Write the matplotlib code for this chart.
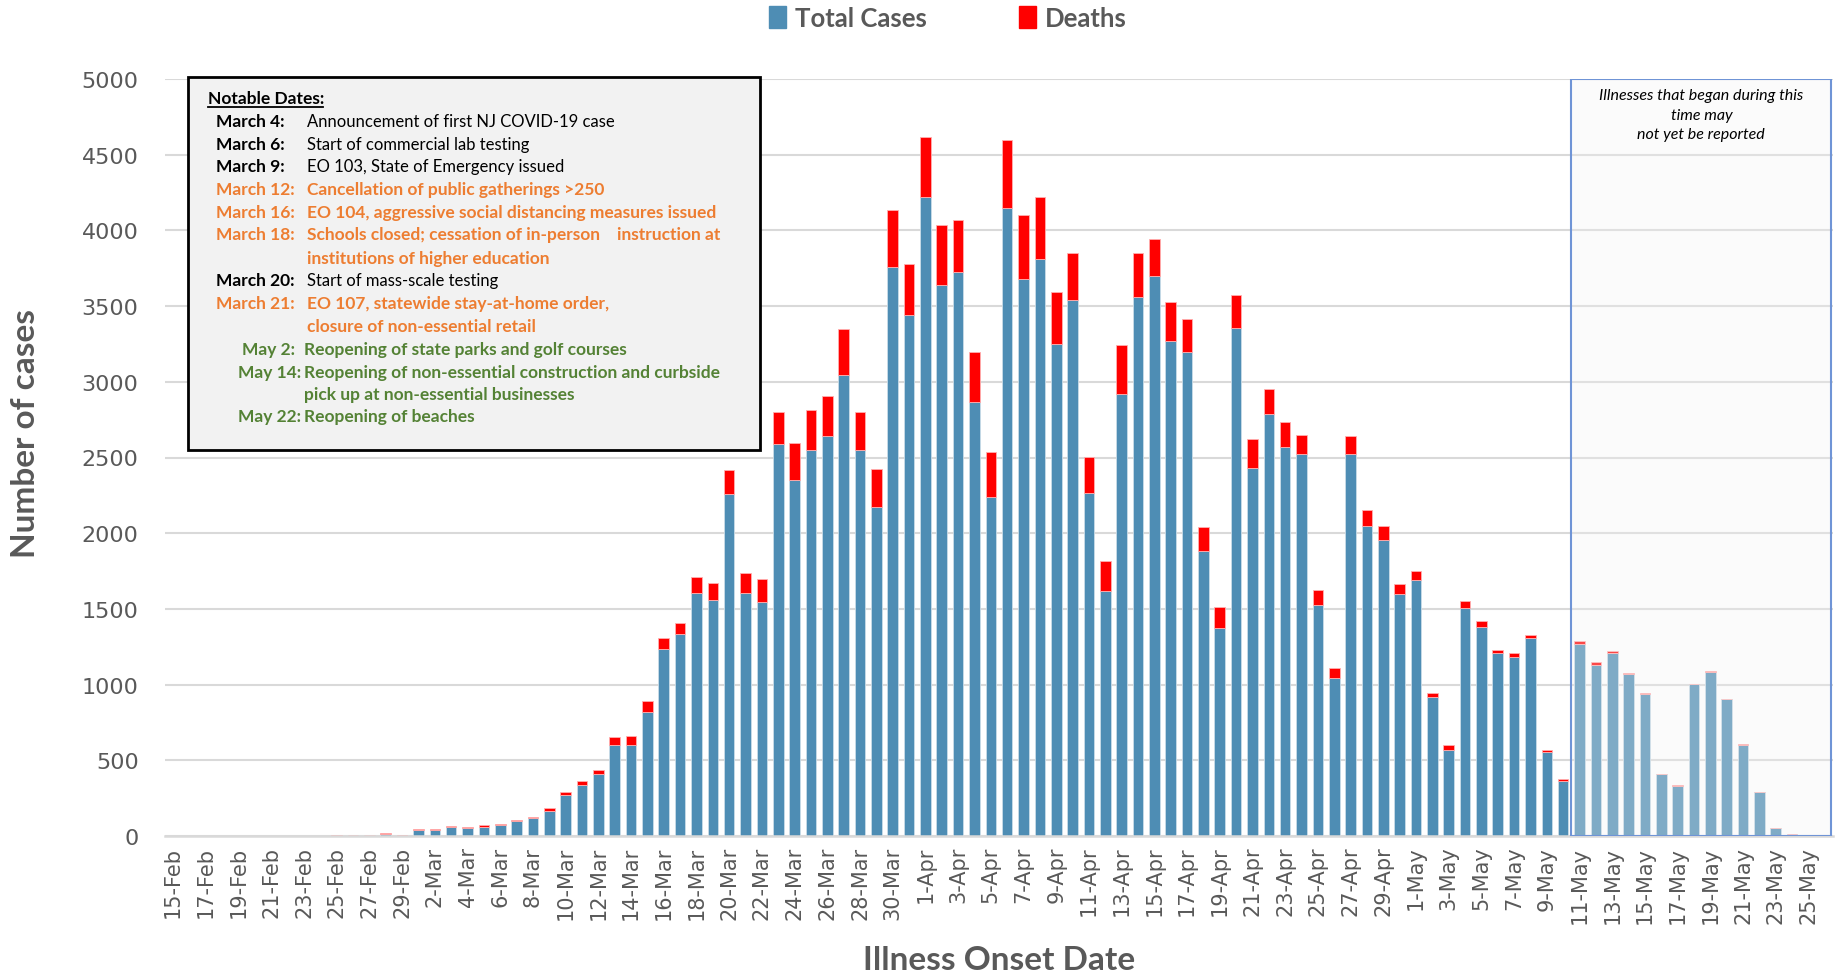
import matplotlib
matplotlib.use("Agg")
import matplotlib.pyplot as plt
import matplotlib.patches as mpatches
import numpy as np
import pandas as pd

# daily counts, 15-Feb .. 26-May 2020
dates = pd.date_range("2020-02-15", "2020-05-26", freq="D")
date_labels = [f"{d.day}-{d.strftime('%b')}" for d in dates]

cases_feb = [0, 0, 0, 0, 0, 0, 0, 0, 2, 2, 1, 5, 4, 14, 0]
deaths_feb = [0, 0, 0, 0, 3, 0, 0, 0, 1, 1, 3, 0, 2, 4, 4]
cases_mar = [40, 37, 57, 55, 62, 70, 97, 117, 167, 272, 340, 409, 602, 603, 821,
             1237, 1336, 1603, 1561, 2259, 1606, 1544, 2592, 2352, 2549, 2642,
             3048, 2551, 2171, 3758, 3441]
deaths_mar = [6, 6, 9, 7, 8, 9, 11, 11, 16, 16, 24, 28, 49, 57, 68,
              73, 70, 110, 112, 158, 129, 155, 211, 242, 262, 265,
              299, 247, 253, 376, 340]
cases_apr = [4218, 3642, 3726, 2864, 2242, 4147, 3681, 3813, 3250, 3541, 2268,
             1620, 2922, 3561, 3700, 3269, 3198, 1883, 1371, 3356, 2433, 2786,
             2570, 2524, 1527, 1046, 2521, 2047, 1954, 1598]
deaths_apr = [399, 392, 343, 331, 295, 451, 421, 405, 346, 308, 237,
              198, 318, 291, 246, 256, 218, 159, 143, 219, 192, 167,
              164, 125, 99, 65, 123, 104, 93, 66]
cases_may = [1689, 920, 569, 1508, 1379, 1208, 1183, 1308, 555, 363, 1269, 1132,
             1211, 1070, 938, 407, 333, 1002, 1086, 905, 604, 293, 55, 15, 0, 0]
deaths_may = [63, 24, 30, 41, 39, 23, 24, 18, 13, 14, 17, 18,
              11, 7, 7, 0, 4, 5, 4, 0, 4, 0, 0, 0, 0, 0]

cases = np.array(cases_feb + cases_mar + cases_apr + cases_may)
deaths = np.array(deaths_feb + deaths_mar + deaths_apr + deaths_may)

# window where reports may still be incomplete (11-May onward)
lag_start = date_labels.index("11-May")

notes = [
    ("March 4:", "Announcement of first NJ COVID-19 case", "black"),
    ("March 6:", "Start of commercial lab testing", "black"),
    ("March 9:", "EO 103, State of Emergency issued", "black"),
    ("March 12:", "Cancellation of public gatherings >250", "orange"),
    ("March 16:", "EO 104, aggressive social distancing measures issued", "orange"),
    ("March 18:", "Schools closed; cessation of in-person    instruction at", "orange"),
    ("", "institutions of higher education", "orange"),
    ("March 20:", "Start of mass-scale testing", "black"),
    ("March 21:", "EO 107, statewide stay-at-home order,", "orange"),
    ("", "closure of non-essential retail", "orange"),
    ("May 2:", "Reopening of state parks and golf courses", "green"),
    ("May 14:", "Reopening of non-essential construction and curbside", "green"),
    ("", "pick up at non-essential businesses", "green"),
    ("May 22:", "Reopening of beaches", "green"),
]

BLUE = "#4E8DB4"
RED = "#FF0000"
GREY = "#595959"
colors = {"black": "black", "orange": "#ED7D31", "green": "#548235"}

W, H = 1843, 978
fig = plt.figure(figsize=(W / 100, H / 100), dpi=100)
ax = fig.add_axes([165 / W, 1 - 837 / H, (1833 - 165) / W, (837 - 80) / H])

x = np.arange(len(dates))
ax.bar(x, cases, width=0.65, color=BLUE, edgecolor="#C9DCE8", linewidth=0.6, zorder=2)
ax.bar(x, deaths, bottom=cases, width=0.65, color=RED, edgecolor="#FFB0B0",
       linewidth=0.6, zorder=2)

ax.set_xlim(-0.5, len(dates) - 0.5)
ax.set_ylim(0, 5000)
ax.set_yticks(np.arange(0, 5001, 500))
ax.yaxis.grid(True, color="#D9D9D9", linewidth=1.5, zorder=0)
ax.set_axisbelow(True)
for s in ["top", "right", "left"]:
    ax.spines[s].set_visible(False)
ax.spines["bottom"].set_color("#D9D9D9")
ax.spines["bottom"].set_linewidth(1.8)

ax.set_xticks(x[::2])
ax.set_xticklabels(date_labels[::2], rotation=90, fontsize=15, color=GREY)
ax.tick_params(axis="x", length=0, pad=7)
ax.tick_params(axis="y", length=0, pad=19, labelsize=16, labelcolor=GREY)

# shaded reporting-lag window
ax.add_patch(mpatches.Rectangle((lag_start - 0.5, 0), len(dates) - lag_start - 0.1, 5000,
                                facecolor="#F2F2F2", alpha=0.3, edgecolor="none", zorder=3))
ax.add_patch(mpatches.Rectangle((lag_start - 0.5, 0), len(dates) - lag_start - 0.1, 5000,
                                facecolor="none", edgecolor="#6F94D6", linewidth=1.5, zorder=4))
ax.text((lag_start - 0.5 + len(dates) - 0.6) / 2, 4940,
        "Illnesses that began during this\ntime may\nnot yet be reported",
        ha="center", va="top", fontsize=11.5, style="italic", family="Lato",
        linespacing=1.5, zorder=5)

def fx(px):
    return px / W

def fy(py):
    return 1 - py / H

fig.text(fx(26), fy(434), "Number of cases", rotation=90, ha="center", va="center",
         fontsize=24, fontweight="bold", color=GREY, family="Lato")
fig.text(fx(999), fy(961), "Illness Onset Date", ha="center", va="center",
         fontsize=24, fontweight="bold", color=GREY, family="Lato")

handles = [mpatches.Patch(color=BLUE), mpatches.Patch(color=RED)]
leg = fig.legend(handles, ["Total Cases", "Deaths"], loc="center", ncol=2,
                 bbox_to_anchor=(fx(948), fy(19)), frameon=False,
                 handlelength=0.65, handleheight=0.95, handletextpad=0.35,
                 columnspacing=3.6, prop={"family": "Lato", "weight": "bold", "size": 18.5})
for t in leg.get_texts():
    t.set_color(GREY)

# notable dates box
fig.patches.append(mpatches.Rectangle((fx(188), fy(451)), fx(760) - fx(188), fy(78) - fy(451),
                                      transform=fig.transFigure, facecolor="#F2F2F2",
                                      edgecolor="black", linewidth=2, zorder=5))
fig.text(fx(208), fy(99), "Notable Dates:", ha="left", va="center", fontsize=12.5,
         fontweight="bold", family="Lato", zorder=6)
fig.add_artist(plt.Line2D([fx(208), fx(323)], [fy(108), fy(108)], color="black",
                          linewidth=1.3, transform=fig.transFigure, zorder=6))

line_y = [122, 145, 167, 190, 213, 235, 259, 281, 304, 327, 350, 373, 395, 417]
for (lab, txt, c), yy in zip(notes, line_y):
    col = colors[c]
    bold = c != "black"
    if lab.startswith("May"):
        lx = 242 if lab == "May 2:" else 238
    else:
        lx = 216
    tx = 304 if c == "green" else 307
    size = 12.5 if bold else 12
    if lab:
        fig.text(fx(lx), fy(yy), lab, ha="left", va="center", fontsize=12.5,
                 fontweight="bold", color=col, family="Lato", zorder=6)
    fig.text(fx(tx), fy(yy), txt, ha="left", va="center", fontsize=size,
             fontweight="bold" if bold else "normal", color=col,
             family="Lato", zorder=6)

fig.savefig("out.png", dpi=100)
